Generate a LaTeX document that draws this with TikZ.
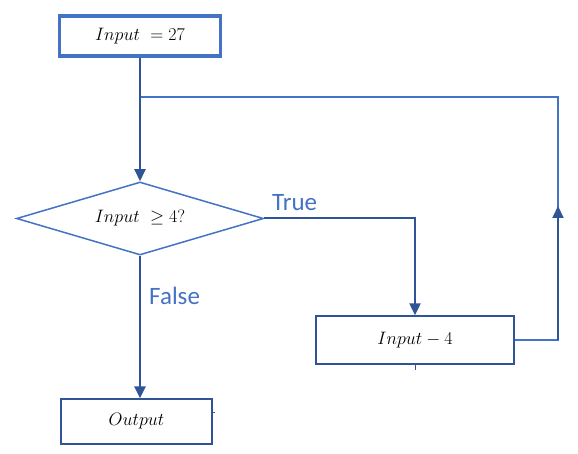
\RequirePackage{fix-cm}
\documentclass[tikz,border=0pt]{standalone}
\usepackage{fontspec}
\usetikzlibrary{shapes.geometric,arrows.meta}
\newfontfamily\lblfont{Carlito}
\definecolor{mblue}{RGB}{68,114,196}
\definecolor{dblue}{RGB}{47,85,151}
\definecolor{lblue}{RGB}{120,152,208}
\begin{document}
\begin{tikzpicture}[x=1pt,y=-1pt,
  box/.style={draw=dblue,line width=1.3pt,fill=white,inner sep=0pt,font=\fontsize{18}{21}\selectfont},
  startbox/.style={box,draw=mblue,line width=3.5pt},
  decbox/.style={box,diamond,draw=mblue,line width=1.5pt,aspect=3.4},
  conn/.style={draw=mblue,line width=2pt},
  arr/.style={-{Triangle[width=11pt,length=12pt]},color=dblue},
  lbl/.style={font=\lblfont\fontsize{25}{28}\selectfont,text=mblue,inner sep=0pt}]
\useasboundingbox (0,0) rectangle (578,454);
\node[startbox,minimum width=161pt,minimum height=40pt] (in) at (140,36) {$Input\ =27$};
\node[decbox,minimum width=247pt,minimum height=73pt] (dec) at (140,218.5) {$Input\ \geq4?$};
\node[box,minimum width=198pt,minimum height=48pt] (sub) at (415,340) {$Input-4$};
\node[box,minimum width=151pt,minimum height=45pt] (out) at (136.5,421.5) {$Output$};
\coordinate (j) at (in.south |- 0,97);
\coordinate (r1) at (558,340);
\coordinate (r2) at (558,97);
\coordinate (ar) at (558,206);
\draw[conn] (sub.east) -- (r1) -- (r2) -- (j);
\draw[conn,arr] (r1) -- (ar);
\draw[conn,arr] (in.south) -- (dec.north);
\draw[conn,arr] (dec.east) -| (sub.north);
\draw[conn,draw=lblue,line width=2.5pt,arr] (dec.south) -- (dec.south |- out.north);
\node[lbl,anchor=south west] (tl) at (272,211) {True};
\node[lbl,anchor=south west] (fl) at (149,305) {False};
\coordinate (t1) at (sub.south); \coordinate (t2) at (415,370);
\draw[dblue,line width=1pt] (t1) -- (t2);
\coordinate (u1) at (out.east |- 0,412); \coordinate (u2) at (215,412);
\draw[dblue,line width=1pt] (u1) -- (u2);
\end{tikzpicture}
\end{document}
